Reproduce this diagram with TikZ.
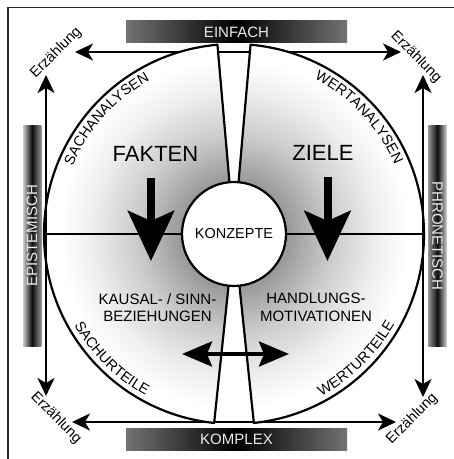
\documentclass[tikz,border=0pt]{standalone}
\usepackage{fontspec}
\setmainfont{Liberation Sans}
\usetikzlibrary{positioning, arrows.meta, calc, decorations.text}
\pgfdeclareradialshading{mitte}{\pgfpoint{0bp}{0bp}}{color(0bp)=(black!48); color(7bp)=(black!40); color(13bp)=(black!20); color(19bp)=(black!6); color(23bp)=(white); color(50bp)=(white)}

\begin{document}
\begin{tikzpicture}[x=1pt, y=1pt, >={Stealth[length=18pt, width=17pt, inset=5pt]},
        linie/.style={line width=2pt},
        kontur/.style={line width=2.2pt, line join=round},
        erz/.style={font=\fontsize{14.5}{15}\selectfont, inner sep=1pt},
        balken/.style={minimum width=221pt, minimum height=22pt, inner sep=0pt,
          text=white!92!black, font=\fontsize{15}{15}\selectfont},
        gross/.style={font=\fontsize{22}{22}\selectfont},
        mittel/.style={font=\fontsize{15}{17.5}\selectfont, align=center},
        dickpfeil/.style={line width=8pt, -{Stealth[length=50pt, width=46pt, inset=10pt]}},
        bogen/.style={decorate, decoration={text along path, text align=center,
          text={|\fontsize{14.5}{14.5}\selectfont|#1}}}]
      \useasboundingbox (0,0) rectangle (454,459);
      % Rahmen
      \draw[line width=1.2pt, black!85] (8,0) -- (8,451.5) -- (454,451.5);
      \coordinate (M) at (234,225);
      % Pfeilenden
      \coordinate (obenL) at (75,407);
      \coordinate (obenR) at (401,407);
      \coordinate (untenL) at (72,37);
      \coordinate (untenR) at (396,37);
      \coordinate (linksO) at (46,384);
      \coordinate (linksU) at (46,63);
      \coordinate (rechtsO) at (423,384);
      \coordinate (rechtsU) at (423,62);
      \draw[linie, <->] (obenL) -- (obenR);
      \draw[linie, <->] (untenL) -- (untenR);
      % Kreis aus zwei Haelften
      \begin{scope}
        \clip (M) -- ++(95:190pt) arc[start angle=95, end angle=264, radius=190pt] -- cycle
              (M) -- ++(-84:190pt) arc[start angle=-84, end angle=85, radius=190pt] -- cycle;
        \shade[shading=mitte] (M) circle[radius=190pt];
      \end{scope}
      \draw[linie] ($(M)+(180:190pt)$) -- ($(M)+(0:190pt)$);
      \draw[kontur] (M) -- ++(95:190pt) arc[start angle=95, end angle=264, radius=190pt] -- cycle;
      \draw[kontur] (M) -- ++(-84:190pt) arc[start angle=-84, end angle=85, radius=190pt] -- cycle;
      \draw[linie, <->] (linksO) -- (linksU);
      \draw[linie, <->] (rechtsO) -- (rechtsU);
      % Balken
      \node[balken, left color=black!55, right color=black!55, middle color=black] (einfach) at (236.5,427) {EINFACH};
      \node[balken, left color=black!55, right color=black!55, middle color=black] (komplex) at (236.5,19.5) {KOMPLEX};
      \node[balken, minimum height=18.5pt, rotate=90, left color=black!18, right color=black!42, middle color=black!95] (epistemisch) at (32,223) {EPISTEMISCH};
      \node[balken, minimum height=18.5pt, rotate=-90, left color=black!42, right color=black!18, middle color=black!95] (phronetisch) at (437.5,223) {PHRONETISCH};
      % Erzaehlung
      \node[erz, rotate=45] (erzOL) at (56,406) {Erzählung};
      \node[erz, rotate=-45] (erzOR) at (416,402) {Erzählung};
      \node[erz, rotate=-45] (erzUL) at (56,41) {Erzählung};
      \node[erz, rotate=45] (erzUR) at (412,40) {Erzählung};
      % Mitte
      \node[circle, draw, line width=2.2pt, fill=white, minimum size=104pt, inner sep=0pt,
        font=\fontsize{14.5}{14.5}\selectfont] (konzepte) at (M) {KONZEPTE};
      \node[gross] (fakten) at (155.5,305.5) {FAKTEN};
      \node[gross] (ziele) at (323,306.5) {ZIELE};
      \coordinate (fa1) at (151,281);
      \coordinate (fa2) at (151,198);
      \coordinate (zi1) at (327.5,282);
      \coordinate (zi2) at (327.5,198);
      \draw[dickpfeil] (fa1) -- (fa2);
      \draw[dickpfeil] (zi1) -- (zi2);
      \node[mittel] (kausal) at (157.5,151.5) {KAUSAL- / SINN-\\BEZIEHUNGEN};
      \node[mittel] (handlung) at (316,151.5) {HANDLUNGS-\\MOTIVATIONEN};
      \coordinate (dpL) at (182,105);
      \coordinate (dpR) at (289,105);
      \draw[line width=4pt, {Stealth[length=30pt, width=25pt, inset=5pt]}-{Stealth[length=30pt, width=25pt, inset=5pt]}] (dpL) -- (dpR);
      % Bogentexte
      \path[bogen=SACHANALYSEN] ($(M)+(168:175pt)$) arc[start angle=168, end angle=108, radius=175pt];
      \path[bogen=WERTANALYSEN] ($(M)+(73:175pt)$) arc[start angle=73, end angle=13, radius=175pt];
      \path[bogen=SACHURTEILE] ($(M)+(195:184pt)$) arc[start angle=195, end angle=256, radius=184pt];
      \path[bogen=WERTURTEILE] ($(M)+(-76:184pt)$) arc[start angle=-76, end angle=-15, radius=184pt];
    \end{tikzpicture}
\end{document}
